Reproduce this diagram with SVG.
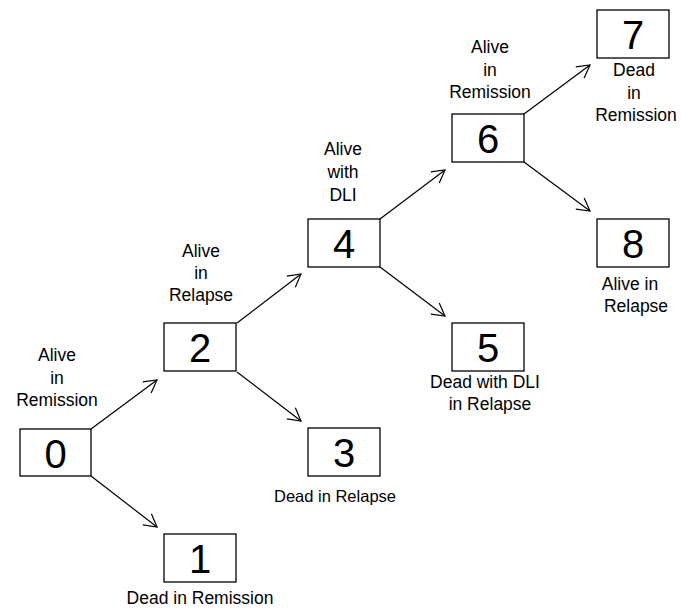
<svg xmlns="http://www.w3.org/2000/svg" width="681" height="609" viewBox="0 0 681 609">
<defs>
<style>
.box{fill:#fff;stroke:#000;stroke-width:1.3}
.num{font-family:"Liberation Sans",Arial,sans-serif;font-size:40px;text-anchor:middle;fill:#000}
.lbl{font-family:"Liberation Sans",Arial,sans-serif;font-size:17.5px;text-anchor:middle;fill:#000}
.edge{stroke:#000;stroke-width:1.2;fill:none;marker-end:url(#arr)}
</style>
<marker id="arr" markerUnits="userSpaceOnUse" markerWidth="30" markerHeight="30" refX="0" refY="0" viewBox="-15 -15 30 30" orient="auto" overflow="visible">
<path d="M-12.5,-7 L0,0 L-12.5,7" fill="none" stroke="#000" stroke-width="1.2"/>
</marker>
</defs>
<rect width="681" height="609" fill="#fff"/>
<g id="connectors">
<line class="edge" x1="91" y1="429" x2="157" y2="380"/>
<line class="edge" x1="91" y1="476" x2="157" y2="527"/>
<line class="edge" x1="237" y1="323" x2="301" y2="274"/>
<line class="edge" x1="237" y1="372" x2="301" y2="421"/>
<line class="edge" x1="380" y1="219" x2="445" y2="170"/>
<line class="edge" x1="380" y1="267" x2="445" y2="316"/>
<line class="edge" x1="524" y1="114" x2="590" y2="65"/>
<line class="edge" x1="524" y1="162" x2="590" y2="211"/>
</g>
<g id="node0">
<rect class="box" x="20" y="429" width="71" height="47"/>
<text class="num" x="55.5" y="468">0</text>
<text class="lbl" x="57" y="361">Alive</text>
<text class="lbl" x="57" y="384">in</text>
<text class="lbl" x="57" y="406">Remission</text>
</g>
<g id="node1">
<rect class="box" x="164" y="534" width="72" height="48"/>
<text class="num" x="200" y="573">1</text>
<text class="lbl" x="200" y="604">Dead in Remission</text>
</g>
<g id="node2">
<rect class="box" x="164" y="323" width="72" height="48"/>
<text class="num" x="200" y="362">2</text>
<text class="lbl" x="201" y="257">Alive</text>
<text class="lbl" x="201" y="279">in</text>
<text class="lbl" x="201" y="301">Relapse</text>
</g>
<g id="node3">
<rect class="box" x="308" y="428" width="72" height="48"/>
<text class="num" x="344" y="467">3</text>
<text class="lbl" x="335" y="502" style="font-size:16.5px">Dead in Relapse</text>
</g>
<g id="node4">
<rect class="box" x="308" y="219" width="72" height="48"/>
<text class="num" x="344" y="258">4</text>
<text class="lbl" x="343" y="155">Alive</text>
<text class="lbl" x="343" y="178">with</text>
<text class="lbl" x="343" y="201">DLI</text>
</g>
<g id="node5">
<rect class="box" x="452" y="323" width="72" height="48"/>
<text class="num" x="488" y="362">5</text>
<text class="lbl" x="485" y="388">Dead with DLI</text>
<text class="lbl" x="490" y="410">in Relapse</text>
</g>
<g id="node6">
<rect class="box" x="452" y="114" width="72" height="48"/>
<text class="num" x="488" y="153">6</text>
<text class="lbl" x="490" y="53">Alive</text>
<text class="lbl" x="490" y="76">in</text>
<text class="lbl" x="490" y="98">Remission</text>
</g>
<g id="node7">
<rect class="box" x="597" y="10" width="72" height="48"/>
<text class="num" x="633" y="49">7</text>
<text class="lbl" x="634" y="76">Dead</text>
<text class="lbl" x="634" y="99">in</text>
<text class="lbl" x="636" y="121">Remission</text>
</g>
<g id="node8">
<rect class="box" x="597" y="219" width="72" height="48"/>
<text class="num" x="633" y="258">8</text>
<text class="lbl" x="630" y="290">Alive in</text>
<text class="lbl" x="636" y="312">Relapse</text>
</g>
</svg>
